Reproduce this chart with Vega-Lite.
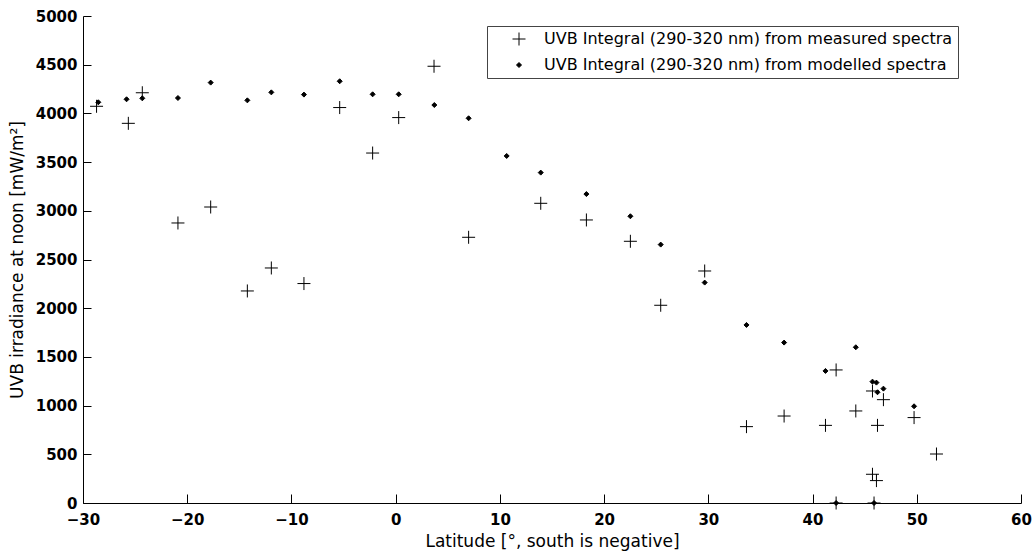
{
  "$schema": "https://vega.github.io/schema/vega-lite/v6.json",
  "width": 938,
  "height": 487,
  "autosize": "none",
  "padding": {"left": 83, "top": 16, "right": 13, "bottom": 49},
  "background": "white",
  "config": {"view": {"stroke": null}},
  "data": {
    "values": [
      {"lat": -28.7, "uvb": 4073, "series": "UVB Integral (290-320 nm) from measured spectra"},
      {"lat": -25.65, "uvb": 3898, "series": "UVB Integral (290-320 nm) from measured spectra"},
      {"lat": -24.31, "uvb": 4212, "series": "UVB Integral (290-320 nm) from measured spectra"},
      {"lat": -20.89, "uvb": 2875, "series": "UVB Integral (290-320 nm) from measured spectra"},
      {"lat": -17.75, "uvb": 3039, "series": "UVB Integral (290-320 nm) from measured spectra"},
      {"lat": -14.23, "uvb": 2177, "series": "UVB Integral (290-320 nm) from measured spectra"},
      {"lat": -11.93, "uvb": 2413, "series": "UVB Integral (290-320 nm) from measured spectra"},
      {"lat": -8.8, "uvb": 2253, "series": "UVB Integral (290-320 nm) from measured spectra"},
      {"lat": -5.37, "uvb": 4060, "series": "UVB Integral (290-320 nm) from measured spectra"},
      {"lat": -2.21, "uvb": 3593, "series": "UVB Integral (290-320 nm) from measured spectra"},
      {"lat": 0.29, "uvb": 3957, "series": "UVB Integral (290-320 nm) from measured spectra"},
      {"lat": 3.68, "uvb": 4484, "series": "UVB Integral (290-320 nm) from measured spectra"},
      {"lat": 7.0, "uvb": 2728, "series": "UVB Integral (290-320 nm) from measured spectra"},
      {"lat": 13.92, "uvb": 3077, "series": "UVB Integral (290-320 nm) from measured spectra"},
      {"lat": 18.3, "uvb": 2906, "series": "UVB Integral (290-320 nm) from measured spectra"},
      {"lat": 22.52, "uvb": 2687, "series": "UVB Integral (290-320 nm) from measured spectra"},
      {"lat": 25.43, "uvb": 2030, "series": "UVB Integral (290-320 nm) from measured spectra"},
      {"lat": 29.65, "uvb": 2382, "series": "UVB Integral (290-320 nm) from measured spectra"},
      {"lat": 33.66, "uvb": 784, "series": "UVB Integral (290-320 nm) from measured spectra"},
      {"lat": 37.27, "uvb": 893, "series": "UVB Integral (290-320 nm) from measured spectra"},
      {"lat": 41.24, "uvb": 797, "series": "UVB Integral (290-320 nm) from measured spectra"},
      {"lat": 42.26, "uvb": 1366, "series": "UVB Integral (290-320 nm) from measured spectra"},
      {"lat": 42.26, "uvb": 0, "series": "UVB Integral (290-320 nm) from measured spectra"},
      {"lat": 44.15, "uvb": 945, "series": "UVB Integral (290-320 nm) from measured spectra"},
      {"lat": 45.75, "uvb": 1150, "series": "UVB Integral (290-320 nm) from measured spectra"},
      {"lat": 45.75, "uvb": 295, "series": "UVB Integral (290-320 nm) from measured spectra"},
      {"lat": 46.13, "uvb": 230, "series": "UVB Integral (290-320 nm) from measured spectra"},
      {"lat": 45.9, "uvb": 0, "series": "UVB Integral (290-320 nm) from measured spectra"},
      {"lat": 46.23, "uvb": 797, "series": "UVB Integral (290-320 nm) from measured spectra"},
      {"lat": 46.8, "uvb": 1061, "series": "UVB Integral (290-320 nm) from measured spectra"},
      {"lat": 49.74, "uvb": 877, "series": "UVB Integral (290-320 nm) from measured spectra"},
      {"lat": 51.89, "uvb": 503, "series": "UVB Integral (290-320 nm) from measured spectra"},
      {"lat": -28.53, "uvb": 4114, "series": "UVB Integral (290-320 nm) from modelled spectra"},
      {"lat": -25.82, "uvb": 4145, "series": "UVB Integral (290-320 nm) from modelled spectra"},
      {"lat": -24.31, "uvb": 4155, "series": "UVB Integral (290-320 nm) from modelled spectra"},
      {"lat": -20.89, "uvb": 4158, "series": "UVB Integral (290-320 nm) from modelled spectra"},
      {"lat": -17.75, "uvb": 4316, "series": "UVB Integral (290-320 nm) from modelled spectra"},
      {"lat": -14.23, "uvb": 4134, "series": "UVB Integral (290-320 nm) from modelled spectra"},
      {"lat": -11.93, "uvb": 4216, "series": "UVB Integral (290-320 nm) from modelled spectra"},
      {"lat": -8.8, "uvb": 4193, "series": "UVB Integral (290-320 nm) from modelled spectra"},
      {"lat": -5.37, "uvb": 4330, "series": "UVB Integral (290-320 nm) from modelled spectra"},
      {"lat": -2.21, "uvb": 4196, "series": "UVB Integral (290-320 nm) from modelled spectra"},
      {"lat": 0.29, "uvb": 4196, "series": "UVB Integral (290-320 nm) from modelled spectra"},
      {"lat": 3.71, "uvb": 4086, "series": "UVB Integral (290-320 nm) from modelled spectra"},
      {"lat": 7.0, "uvb": 3950, "series": "UVB Integral (290-320 nm) from modelled spectra"},
      {"lat": 10.65, "uvb": 3563, "series": "UVB Integral (290-320 nm) from modelled spectra"},
      {"lat": 13.92, "uvb": 3392, "series": "UVB Integral (290-320 nm) from modelled spectra"},
      {"lat": 18.3, "uvb": 3172, "series": "UVB Integral (290-320 nm) from modelled spectra"},
      {"lat": 22.52, "uvb": 2944, "series": "UVB Integral (290-320 nm) from modelled spectra"},
      {"lat": 25.43, "uvb": 2653, "series": "UVB Integral (290-320 nm) from modelled spectra"},
      {"lat": 29.65, "uvb": 2263, "series": "UVB Integral (290-320 nm) from modelled spectra"},
      {"lat": 33.66, "uvb": 1828, "series": "UVB Integral (290-320 nm) from modelled spectra"},
      {"lat": 37.27, "uvb": 1647, "series": "UVB Integral (290-320 nm) from modelled spectra"},
      {"lat": 41.24, "uvb": 1356, "series": "UVB Integral (290-320 nm) from modelled spectra"},
      {"lat": 42.26, "uvb": 0, "series": "UVB Integral (290-320 nm) from modelled spectra"},
      {"lat": 44.15, "uvb": 1599, "series": "UVB Integral (290-320 nm) from modelled spectra"},
      {"lat": 45.75, "uvb": 1246, "series": "UVB Integral (290-320 nm) from modelled spectra"},
      {"lat": 46.13, "uvb": 1236, "series": "UVB Integral (290-320 nm) from modelled spectra"},
      {"lat": 46.23, "uvb": 1137, "series": "UVB Integral (290-320 nm) from modelled spectra"},
      {"lat": 46.8, "uvb": 1174, "series": "UVB Integral (290-320 nm) from modelled spectra"},
      {"lat": 45.9, "uvb": 0, "series": "UVB Integral (290-320 nm) from modelled spectra"},
      {"lat": 49.74, "uvb": 993, "series": "UVB Integral (290-320 nm) from modelled spectra"}
    ]
  },
  "layer": [
    {
      "mark": {"type": "point", "size": 25, "strokeWidth": 1, "opacity": 1, "clip": false},
      "encoding": {
        "x": {
          "field": "lat", "type": "quantitative",
          "scale": {"domain": [-30, 60], "nice": false, "zero": false},
          "axis": {
            "values": [-30, -20, -10, 0, 10, 20, 30, 40, 50, 60], "format": "d",
            "grid": false, "ticks": false, "domainColor": "black", "domainWidth": 1,
            "labelPadding": 9, "labelFlush": false, "labelOverlap": false,
            "labelFont": "DejaVu Sans", "labelFontWeight": "bold", "labelFontSize": 15, "labelColor": "black",
            "title": "Latitude [°, south is negative]", "titlePadding": 6,
            "titleFont": "DejaVu Sans", "titleFontWeight": "normal", "titleFontSize": 17, "titleColor": "black"
          }
        },
        "y": {
          "field": "uvb", "type": "quantitative",
          "scale": {"domain": [0, 5000], "nice": false},
          "axis": {
            "values": [0, 500, 1000, 1500, 2000, 2500, 3000, 3500, 4000, 4500, 5000], "format": "d",
            "grid": false, "ticks": false, "domainColor": "black", "domainWidth": 1,
            "labelPadding": 6, "labelFlush": false, "labelOverlap": false,
            "labelFont": "DejaVu Sans", "labelFontWeight": "bold", "labelFontSize": 15, "labelColor": "black",
            "title": "UVB irradiance at noon [mW/m²]", "titlePadding": 9,
            "titleFont": "DejaVu Sans", "titleFontWeight": "normal", "titleFontSize": 17, "titleColor": "black"
          }
        },
        "shape": {
          "field": "series", "type": "nominal",
          "scale": {"range": ["M-2.6,0H2.6M0,-2.6V2.6", "diamond"]},
          "legend": {
            "title": null, "orient": "none", "legendX": 404, "legendY": 10,
            "strokeColor": "#444", "fillColor": "white", "padding": 5,
            "labelFont": "DejaVu Sans", "labelFontSize": 16, "labelColor": "black", "labelLimit": 600,
            "symbolSize": 25, "symbolOffset": 19, "labelOffset": 17, "rowPadding": 9, "symbolStrokeWidth": 1
          }
        },
        "fill": {
          "field": "series", "type": "nominal",
          "scale": {"range": ["transparent", "black"]},
          "legend": {
            "title": null, "orient": "none", "legendX": 404, "legendY": 10,
            "strokeColor": "#444", "fillColor": "white", "padding": 5,
            "labelFont": "DejaVu Sans", "labelFontSize": 16, "labelColor": "black", "labelLimit": 600,
            "symbolSize": 25, "symbolOffset": 19, "labelOffset": 17, "rowPadding": 9, "symbolStrokeWidth": 1
          }
        },
        "stroke": {"value": "black"}
      }
    },
    {
      "mark": {"type": "point", "opacity": 0},
      "encoding": {
        "x": {
          "field": "lat", "type": "quantitative",
          "axis": {
            "orient": "bottom", "offset": -9, "values": [-30, -20, -10, 0, 10, 20, 30, 40, 50, 60],
            "domain": false, "labels": false, "grid": false, "title": null,
            "ticks": true, "tickSize": 9, "tickColor": "black", "tickWidth": 1
          }
        },
        "y": {
          "field": "uvb", "type": "quantitative",
          "axis": {
            "orient": "left", "offset": -8, "values": [0, 500, 1000, 1500, 2000, 2500, 3000, 3500, 4000, 4500, 5000],
            "domain": false, "labels": false, "grid": false, "title": null,
            "ticks": true, "tickSize": 8, "tickColor": "black", "tickWidth": 1
          }
        }
      }
    }
  ],
  "resolve": {"axis": {"x": "independent", "y": "independent"}}
}
